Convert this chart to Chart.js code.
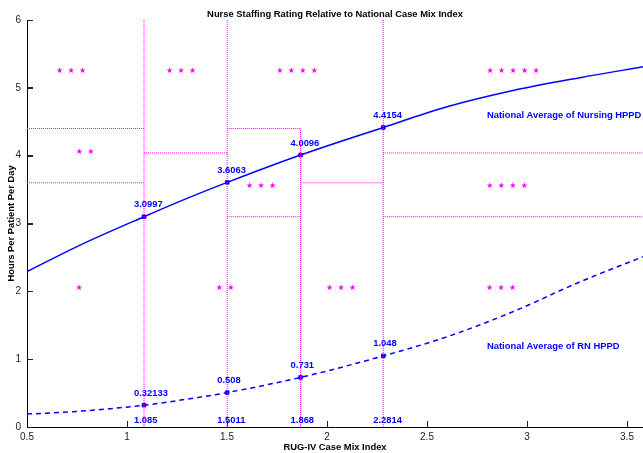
<!DOCTYPE html>
<html lang="en">
<head>
    <meta charset="UTF-8">
    <title>Nurse Staffing Rating</title>
    <style>
        html, body { margin: 0; padding: 0; background: #fff; overflow: hidden; }
    </style>
</head>
<body>
    <script src="https://cdn.jsdelivr.net/npm/chart.js@4.4.0/dist/chart.umd.min.js"></script>
    <canvas id="staffing" width="643" height="453"></canvas>
    <script>
        // axis ticks
        var xTicks = [0.5, 1, 1.5, 2, 2.5, 3, 3.5];
        var yTicks = [0, 1, 2, 3, 4, 5, 6];

        // case mix index cut points
        var cutX = [1.085, 1.5011, 1.868, 2.2814];
        var nursingAtCut = [3.0997, 3.6063, 4.0096, 4.4154];
        var rnAtCut = [0.32133, 0.508, 0.731, 1.048];

        // curves
        var curveX = [0.5, 0.75, 1.085, 1.3, 1.5011, 1.868, 2.2814, 2.6, 2.93, 3.265, 3.58];
        var nursingY = [2.29, 2.66, 3.0997, 3.37, 3.6063, 4.0096, 4.4154, 4.72, 4.96, 5.15, 5.31];
        var rnY = [0.19, 0.23, 0.32133, 0.41, 0.508, 0.731, 1.048, 1.33, 1.70, 2.14, 2.51];

        // magenta rating bands: [x0, x1, y0, y1]
        var bandLines = [
            [1.085, 1.085, 0, 6],
            [1.5011, 1.5011, 0, 6],
            [1.868, 1.868, 0, 4.4],
            [2.2814, 2.2814, 0, 6],
            [0.5, 1.085, 4.4, 4.4],
            [0.5, 1.085, 3.6, 3.6],
            [1.085, 1.5011, 4.04, 4.04],
            [1.5011, 1.868, 4.4, 4.4],
            [1.5011, 1.868, 3.1, 3.1],
            [1.868, 2.2814, 3.6, 3.6],
            [2.2814, 3.58, 4.04, 4.04],
            [2.2814, 3.58, 3.1, 3.1]
        ];

        // star ratings: x, y, count
        var starX = [0.72, 1.27, 1.85, 2.93, 0.79, 1.67, 2.90, 0.76, 1.49, 2.07, 2.87];
        var starY = [5.25, 5.25, 5.25, 5.25, 4.05, 3.55, 3.55, 2.05, 2.05, 2.05, 2.05];
        var starN = [3, 3, 4, 5, 2, 3, 4, 1, 2, 3, 3];

        var BLUE = '#0000ff';
        var MAGENTA = '#ff00ff';

        var datasets = [];
        bandLines.forEach(function (b) {
            datasets.push({
                data: [{x: b[0], y: b[2]}, {x: b[1], y: b[3]}],
                borderColor: MAGENTA,
                borderWidth: 1,
                borderDash: [1, 1],
                pointRadius: 0,
                pointHoverRadius: 0,
                showLine: true
            });
        });
        datasets.push({
            data: curveX.map(function (x, i) { return {x: x, y: nursingY[i]}; }),
            borderColor: BLUE,
            borderWidth: 1.5,
            pointRadius: 0,
            pointHoverRadius: 0,
            showLine: true,
            cubicInterpolationMode: 'monotone'
        });
        datasets.push({
            data: curveX.map(function (x, i) { return {x: x, y: rnY[i]}; }),
            borderColor: BLUE,
            borderWidth: 1.5,
            borderDash: [5, 4],
            pointRadius: 0,
            pointHoverRadius: 0,
            showLine: true,
            cubicInterpolationMode: 'monotone'
        });
        datasets.push({
            data: cutX.map(function (x, i) { return {x: x, y: nursingAtCut[i]}; })
                .concat(cutX.map(function (x, i) { return {x: x, y: rnAtCut[i]}; })),
            pointStyle: 'rect',
            pointRadius: 2.5,
            backgroundColor: BLUE,
            borderColor: BLUE,
            borderWidth: 1,
            showLine: false
        });

        var BOLD = 'bold 9.4px "Liberation Sans"';

        // labels and stars drawn at data positions
        var textPlugin = {
            id: 'texts',
            afterDraw: function (chart) {
                var ctx = chart.ctx;
                var xs = chart.scales.x, ys = chart.scales.y;
                var area = chart.chartArea;
                ctx.save();

                // y tick marks pointing inward
                ctx.strokeStyle = '#222';
                ctx.lineWidth = 1;
                yTicks.forEach(function (v) {
                    var py = Math.round(ys.getPixelForValue(v)) + 0.5;
                    ctx.beginPath();
                    ctx.moveTo(area.left, py);
                    ctx.lineTo(area.left + 6, py);
                    ctx.stroke();
                });

                // stars
                ctx.fillStyle = MAGENTA;
                ctx.font = '8px "DejaVu Sans"';
                ctx.textAlign = 'center';
                ctx.textBaseline = 'middle';
                starX.forEach(function (x, i) {
                    var cx = xs.getPixelForValue(x);
                    var cy = ys.getPixelForValue(starY[i]);
                    for (var k = 0; k < starN[i]; k++) {
                        ctx.fillText('\u2605', cx + (k - (starN[i] - 1) / 2) * 11.5, cy);
                    }
                });

                // value labels
                ctx.fillStyle = BLUE;
                ctx.font = BOLD;
                ctx.textAlign = 'left';
                cutX.forEach(function (x, i) {
                    var px = xs.getPixelForValue(x) - 10;
                    ctx.fillText(String(nursingAtCut[i]), px, ys.getPixelForValue(nursingAtCut[i]) - 12);
                    ctx.fillText(String(rnAtCut[i]), px, ys.getPixelForValue(rnAtCut[i]) - 12);
                    ctx.fillText(String(x), px, ys.getPixelForValue(0.1));
                });
                ctx.fillText('National Average of Nursing HPPD', xs.getPixelForValue(2.8), ys.getPixelForValue(4.59));
                ctx.fillText('National Average of RN HPPD', xs.getPixelForValue(2.8), ys.getPixelForValue(1.19));

                // title
                ctx.fillStyle = '#000';
                ctx.textAlign = 'center';
                ctx.fillText('Nurse Staffing Rating Relative to National Case Mix Index', (area.left + area.right) / 2, 14);
                ctx.restore();
            }
        };

        function noPad(scale) {
            scale.paddingLeft = 0;
            scale.paddingRight = 0;
            scale.paddingTop = 0;
            scale.paddingBottom = 0;
        }

        // inward tick marks: negative tick length, extra label padding
        var tickGrid = {
            display: true,
            drawOnChartArea: false,
            drawTicks: true,
            tickLength: -6,
            tickColor: '#222',
            tickWidth: 1
        };

        window.onload = function () {
            var ctx = document.getElementById('staffing').getContext('2d');
            window.staffingChart = new Chart(ctx, {
                type: 'scatter',
                data: { datasets: datasets },
                plugins: [textPlugin],
                options: {
                    responsive: false,
                    animation: false,
                    events: [],
                    layout: { autoPadding: false, padding: { top: 20, right: 0, left: 0, bottom: 0 } },
                    plugins: {
                        legend: { display: false },
                        tooltip: { enabled: false }
                    },
                    scales: {
                        x: {
                            type: 'linear',
                            min: 0.5,
                            max: 3.58,
                            afterBuildTicks: function (scale) {
                                scale.ticks = xTicks.map(function (v) { return {value: v}; });
                            },
                            afterFit: function (scale) { scale.height = 26; noPad(scale); },
                            grid: tickGrid,
                            border: { display: true, color: '#000', width: 1 },
                            ticks: {
                                padding: 10,
                                color: '#222',
                                font: { family: 'Liberation Sans', size: 10 },
                                maxRotation: 0,
                                autoSkip: false,
                                callback: function (value) { return String(value); }
                            },
                            title: {
                                display: true,
                                text: 'RUG-IV Case Mix Index',
                                color: '#000',
                                padding: { top: 0, bottom: 0 },
                                font: { family: 'Liberation Sans', size: 9.4, weight: 'bold' }
                            }
                        },
                        y: {
                            type: 'linear',
                            min: 0,
                            max: 6,
                            afterBuildTicks: function (scale) {
                                scale.ticks = yTicks.map(function (v) { return {value: v}; });
                            },
                            afterFit: function (scale) { scale.width = 27; noPad(scale); },
                            grid: tickGrid,
                            border: { display: true, color: '#000', width: 1 },
                            ticks: {
                                padding: 12,
                                color: '#222',
                                font: { family: 'Liberation Sans', size: 10 },
                                callback: function (value) { return String(value); }
                            },
                            title: {
                                display: true,
                                text: 'Hours Per Patient Per Day',
                                color: '#000',
                                padding: { top: 6, bottom: 0 },
                                font: { family: 'Liberation Sans', size: 9.4, weight: 'bold' }
                            }
                        }
                    }
                }
            });
        };
    </script>
</body>
</html>
